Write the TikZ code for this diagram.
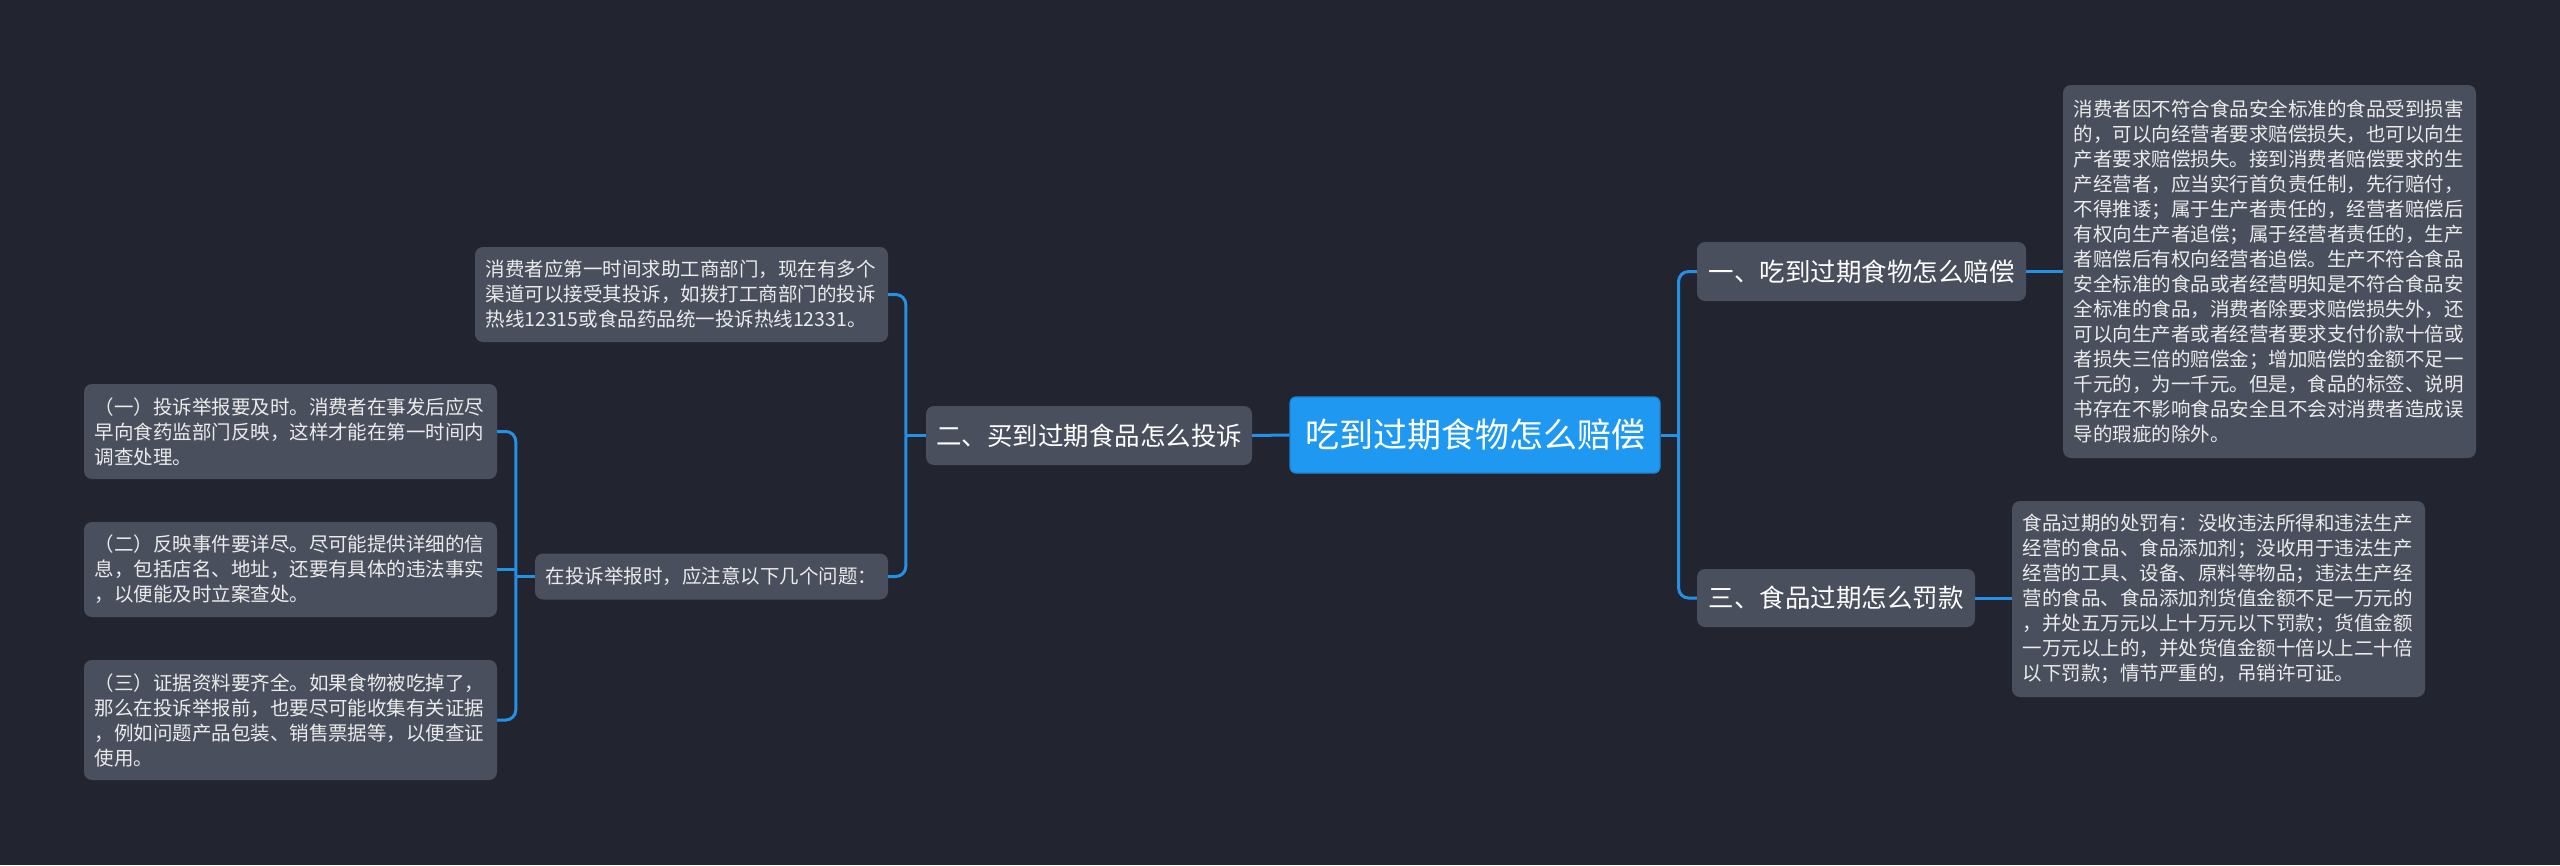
\documentclass[tikz,border=0pt]{standalone}
\usepackage{fontspec}
\setmainfont{Noto Sans CJK SC}
\definecolor{bgc}{RGB}{34,37,48}
\definecolor{boxc}{RGB}{74,79,93}
\definecolor{rootc}{RGB}{30,152,240}
\definecolor{rootedge}{RGB}{28,132,212}
\definecolor{linec}{RGB}{35,145,230}
\tikzset{
  conn/.style={draw=linec, line width=3pt, rounded corners=10pt},
  topic/.style={fill=boxc, rounded corners=8pt, text=white, inner sep=0pt, align=center,
    font=\fontsize{25.5}{30}\selectfont},
  leaf/.style={fill=boxc, rounded corners=8pt, text=white!92!black, inner xsep=10.5pt, inner ysep=0pt,
    align=left, font=\fontsize{19.5}{25}\selectfont},
  rootbox/.style={fill=rootc, draw=rootedge, line width=1.2pt, rounded corners=6pt, text=white, inner sep=0pt, align=center,
    font=\fontsize{34}{40}\selectfont},
}
\begin{document}
\begin{tikzpicture}[x=1pt,y=-1pt]
\fill[bgc] (0,0) rectangle (2560,865);
\useasboundingbox (0,0) rectangle (2560,865);

\node[rootbox, minimum width=370pt, minimum height=76pt] (root) at (1475,435) {吃到过期食物怎么赔偿};
\node[topic, minimum width=326pt, minimum height=59pt] (n2) at (1089,435.5) {二、买到过期食品怎么投诉};
\node[topic, minimum width=329pt, minimum height=59pt] (n1) at (1861.5,271.5) {一、吃到过期食物怎么赔偿};
\node[topic, minimum width=278pt, minimum height=58pt] (n3) at (1836,598) {三、食品过期怎么罚款};

\node[leaf, text width=392pt, minimum height=373pt] (r1) at (2269.5,271.5) {消费者因不符合食品安全标准的食品受到损害\\
的，可以向经营者要求赔偿损失，也可以向生\\
产者要求赔偿损失。接到消费者赔偿要求的生\\
产经营者，应当实行首负责任制，先行赔付，\\
不得推诿；属于生产者责任的，经营者赔偿后\\
有权向生产者追偿；属于经营者责任的，生产\\
者赔偿后有权向经营者追偿。生产不符合食品\\
安全标准的食品或者经营明知是不符合食品安\\
全标准的食品，消费者除要求赔偿损失外，还\\
可以向生产者或者经营者要求支付价款十倍或\\
者损失三倍的赔偿金；增加赔偿的金额不足一\\
千元的，为一千元。但是，食品的标签、说明\\
书存在不影响食品安全且不会对消费者造成误\\
导的瑕疵的除外。};

\node[leaf, text width=392pt, minimum height=196pt] (r2) at (2218.5,599) {食品过期的处罚有：没收违法所得和违法生产\\
经营的食品、食品添加剂；没收用于违法生产\\
经营的工具、设备、原料等物品；违法生产经\\
营的食品、食品添加剂货值金额不足一万元的\\
，并处五万元以上十万元以下罚款；货值金额\\
一万元以上的，并处货值金额十倍以上二十倍\\
以下罚款；情节严重的，吊销许可证。};

\node[leaf, text width=392pt, minimum height=95pt] (lt) at (681.5,294.5) {消费者应第一时间求助工商部门，现在有多个\\
渠道可以接受其投诉，如拨打工商部门的投诉\\
热线12315或食品药品统一投诉热线12331。};

\node[leaf, text width=332pt, minimum height=46pt] (q) at (711.5,576.5) {在投诉举报时，应注意以下几个问题：};

\node[leaf, text width=392pt, minimum height=95pt] (a1) at (290.5,431.5) {（一）投诉举报要及时。消费者在事发后应尽\\
早向食药监部门反映，这样才能在第一时间内\\
调查处理。};

\node[leaf, text width=392pt, minimum height=95pt] (a2) at (290.5,569.5) {（二）反映事件要详尽。尽可能提供详细的信\\
息，包括店名、地址，还要有具体的违法事实\\
，以便能及时立案查处。};

\node[leaf, text width=392pt, minimum height=120pt] (a3) at (290.5,720) {（三）证据资料要齐全。如果食物被吃掉了，\\
那么在投诉举报前，也要尽可能收集有关证据\\
，例如问题产品包装、销售票据等，以便查证\\
使用。};

% bus junctions
\coordinate (b1) at ([xshift=-20pt]n2.west);
\coordinate (b2) at ([xshift=-19pt]q.west);
\coordinate (b3) at ([xshift=18pt]root.east);

% connectors
\draw[conn] (root.west) -- (n2.east);
\draw[conn] (n2.west) -- (b1);
\draw[conn] (lt.east) -| (b1);
\draw[conn] (q.east) -| (b1);
\draw[conn] (q.west) -- (b2);
\draw[conn] (a1.east) -| (b2);
\draw[conn] (a2.east) -- (a2.east -| b2);
\draw[conn] (a3.east) -| (b2);
\draw[conn] (root.east) -- (b3);
\draw[conn] (n1.west) -| (b3);
\draw[conn] (n3.west) -| (b3);
\draw[conn] (n1.east) -- (r1.west);
\draw[conn] (n3.east) -- (n3.east -| r2.west);
\end{tikzpicture}
\end{document}
